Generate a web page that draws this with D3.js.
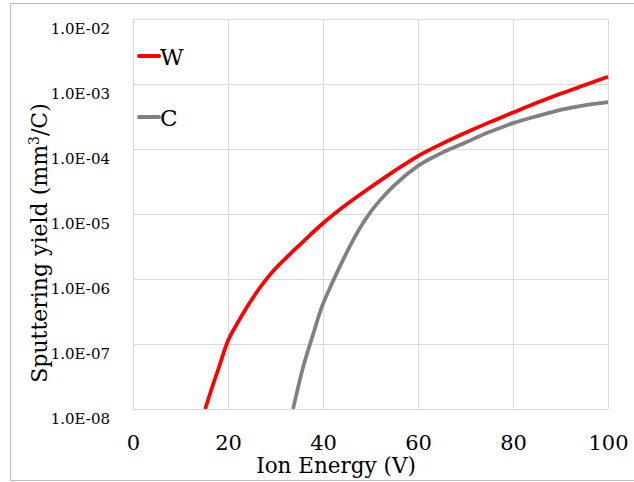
<!DOCTYPE html>
<html lang="en">
<head>
  <meta charset="UTF-8" />
  <title>Sputtering yield</title>
  <script src="https://d3js.org/d3.v7.min.js"></script>
  <style>
    body {
      margin: 0;
      overflow: hidden;
      background: #fff;
    }
    svg text {
      font-family: "DejaVu Serif", serif;
      fill: #000;
    }
    .grid line {
      stroke: #d9d9d9;
      stroke-width: 1;
    }
  </style>
</head>
<body>
<svg width="634" height="482"></svg>
<script>
// data (energy in V, yield in mm3/C)
const wEnergy = [15.2, 16.2, 18, 20, 22, 24, 26, 28, 30, 33, 35, 40, 45, 50, 55, 60, 65, 70, 75, 80, 85, 90, 95, 100];
const wYield  = [1.0e-8, 1.7e-8, 4.2e-8, 1.12e-7, 2.1e-7, 3.7e-7, 6.2e-7, 9.8e-7, 1.45e-6, 2.4e-6, 3.3e-6, 7.2e-6, 1.41e-5, 2.57e-5, 4.57e-5, 7.8e-5, 1.2e-4, 1.78e-4, 2.57e-4, 3.63e-4, 5.13e-4, 7.08e-4, 9.55e-4, 1.29e-3];

const cEnergy = [33.7, 35.8, 37.8, 39.7, 41.5, 44, 46, 48, 50, 52, 55, 60, 65, 70, 75, 80, 85, 90, 95, 100];
const cYield  = [1.0e-8, 4.37e-8, 1.32e-7, 3.63e-7, 7.4e-7, 1.82e-6, 3.55e-6, 6.46e-6, 1.07e-5, 1.62e-5, 2.75e-5, 5.5e-5, 8.7e-5, 1.26e-4, 1.82e-4, 2.5e-4, 3.2e-4, 4.0e-4, 4.7e-4, 5.25e-4];

const xTicks = [0, 20, 40, 60, 80, 100];
const yTicks = [1e-8, 1e-7, 1e-6, 1e-5, 1e-4, 1e-3, 1e-2];
const yTickLabels = ["1.0E-08", "1.0E-07", "1.0E-06", "1.0E-05", "1.0E-04", "1.0E-03", "1.0E-02"];

const series = [
  { name: "W", color: "#ff0000", energy: wEnergy, values: wYield },
  { name: "C", color: "#808080", energy: cEnergy, values: cYield }
];

const svg = d3.select("svg");
const plotL = 133, plotR = 608, plotT = 19, plotB = 409;

// outer chart frame
svg.append("rect")
  .attr("x", 10.5).attr("y", 3.5)
  .attr("width", 640).attr("height", 477)
  .attr("fill", "#fff")
  .attr("stroke", "#bfbfbf");

const x = d3.scaleLinear().domain([0, 100]).range([plotL, plotR]);
const y = d3.scaleLog().domain([1e-8, 1e-2]).range([plotB, plotT]);

// gridlines
const grid = svg.append("g").attr("class", "grid");
grid.selectAll(".gx")
  .data(xTicks)
  .enter().append("line")
  .attr("x1", d => Math.round(x(d)) + 0.5).attr("x2", d => Math.round(x(d)) + 0.5)
  .attr("y1", plotT).attr("y2", plotB);
grid.selectAll(".gy")
  .data(yTicks)
  .enter().append("line")
  .attr("x1", plotL).attr("x2", plotR)
  .attr("y1", d => Math.round(y(d)) + 0.5).attr("y2", d => Math.round(y(d)) + 0.5);

// axes (labels only)
const xAxis = svg.append("g")
  .attr("transform", `translate(0,${plotB})`)
  .call(d3.axisBottom(x).tickValues(xTicks).tickSize(0).tickPadding(0));
xAxis.attr("font-family", null);
xAxis.select(".domain").remove();
xAxis.selectAll("text")
  .attr("y", 41).attr("dy", null)
  .style("font-size", "21px");

const yAxis = svg.append("g")
  .attr("transform", `translate(110,0)`)
  .call(d3.axisLeft(y).tickValues(yTicks).tickSize(0)
    .tickFormat((d, i) => yTickLabels[i]));
yAxis.attr("font-family", null);
yAxis.select(".domain").remove();
yAxis.selectAll("text")
  .attr("x", 0).attr("dy", null).attr("y", 14)
  .style("font-size", "15px");

// clip to plot area
svg.append("clipPath").attr("id", "plot")
  .append("rect")
  .attr("x", plotL).attr("y", plotT - 5)
  .attr("width", plotR - plotL + 5).attr("height", plotB - plotT + 5);

const line = d3.line()
  .x(d => x(d[0]))
  .y(d => y(d[1]))
  .curve(d3.curveMonotoneX);

svg.append("g").attr("clip-path", "url(#plot)")
  .selectAll("path")
  .data(series)
  .enter().append("path")
  .attr("d", s => line(s.energy.map((e, i) => [e, s.values[i]])))
  .attr("fill", "none")
  .attr("stroke", s => s.color)
  .attr("stroke-width", 3.75)
  .attr("stroke-linejoin", "round");

// legend
const legend = svg.append("g");
const legY = [56, 117];
series.forEach((s, i) => {
  legend.append("line")
    .attr("x1", 139).attr("x2", 159)
    .attr("y1", legY[i]).attr("y2", legY[i])
    .attr("stroke", s.color)
    .attr("stroke-width", 4)
    .attr("stroke-linecap", "round");
  legend.append("text")
    .attr("x", 160).attr("y", legY[i] + 9)
    .style("font-size", "23px")
    .text(s.name);
});

// axis titles
svg.append("text")
  .attr("x", 336).attr("y", 473)
  .attr("text-anchor", "middle")
  .style("font-size", "21.5px")
  .text("Ion Energy (V)");

const yTitle = svg.append("text")
  .attr("transform", "translate(47,243) rotate(-90)")
  .attr("text-anchor", "middle")
  .style("font-size", "22px");
yTitle.append("tspan").text("Sputtering yield (mm");
yTitle.append("tspan").attr("dy", -8).style("font-size", "14px").text("3");
yTitle.append("tspan").attr("dy", 8).text("/C)");
</script>
</body>
</html>
